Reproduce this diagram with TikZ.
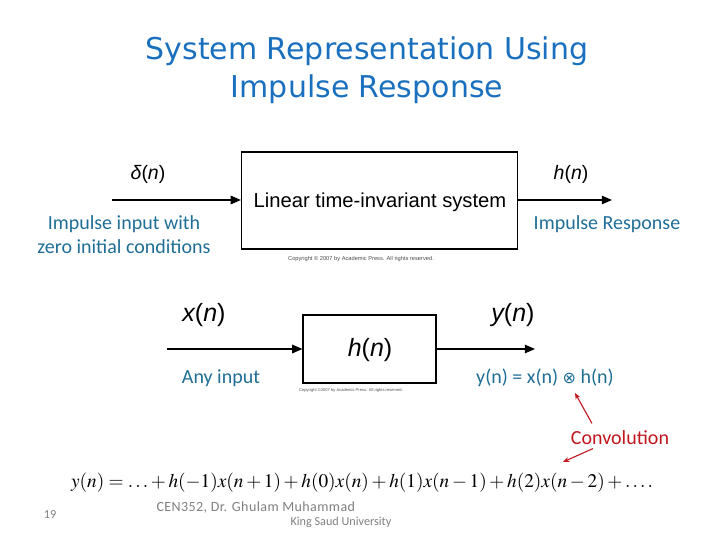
\documentclass[tikz,border=0pt]{standalone}
\usepackage{mathptmx}
\usepackage[no-math]{fontspec}
\setmainfont{Liberation Serif}
\newfontfamily\hvfont{Liberation Sans}
\newfontfamily\clfont{Carlito}
\newfontfamily\ftfont[LetterSpace=3]{Carlito}
\newfontfamily\ttlfont{DejaVu Sans}
\newfontfamily\symfont{DejaVu Sans}
\usetikzlibrary{arrows.meta,positioning}
\definecolor{srtitle}{HTML}{1A70BE}
\definecolor{srlabel}{HTML}{1F6E96}
\definecolor{srred}{HTML}{C0161E}
\definecolor{srgray}{HTML}{7F7F7F}
\tikzset{
  sr box/.style={draw=black, line width=1.1pt, inner sep=0pt},
  sr arrow/.style={-{Triangle[length=3.6mm,width=3mm]}, line width=1.2pt, draw=black},
  sr red arrow/.style={-{Stealth[length=2.2mm,width=1.8mm]}, line width=1.1pt, draw=srred},
  sr sig/.style={font=\hvfont\fontsize{19.5}{22}\selectfont, text=black},
  sr big sig/.style={font=\hvfont\fontsize{25}{28}\selectfont, text=black},
  sr label/.style={font=\clfont\fontsize{20}{24}\selectfont, text=srlabel, align=center},
  sr copy/.style={font=\hvfont\fontsize{5.7}{7}\selectfont, text=black!70},
  sr foot/.style={font=\clfont\fontsize{12.2}{15}\selectfont, text=srgray}
}
\begin{document}
\begin{tikzpicture}[x=1pt, y=-1pt]
  \useasboundingbox (0,0) rectangle (720,540);
  % title
  \node[font=\ttlfont\fontsize{30}{38}\selectfont, text=srtitle, align=center] (title) at (367,70)
    {System Representation Using\\Impulse Response};
  % upper block: LTI system
  \node[sr box, minimum width=276pt, minimum height=97pt] (lti) at (379.5,200.5) {};
  \node[font=\hvfont\fontsize{20.2}{24}\selectfont] (ltitext) at (380,202) {Linear time-invariant system};
  \coordinate (dstart) at (112,200);
  \coordinate (hend) at (612,200);
  \draw[sr arrow] (dstart) -- (dstart -| lti.west);
  \draw[sr arrow] (hend -| lti.east) -- (hend);
  \node[sr sig] (delta) at (148,174) {\itshape δ\upshape(\itshape n\upshape)};
  \node[sr sig] (hn) at (571,174) {\itshape h\upshape(\itshape n\upshape)};
  \node[sr label] (imp in) at (124,235) {Impulse input with\\zero initial conditions};
  \node[sr label] (imp resp) at (607,224) {Impulse Response};
  \node[sr copy] (copy1) at (361,259) {Copyright © 2007 by Academic Press. All rights reserved.};
  % lower block: h(n)
  \node[sr box, minimum width=133pt, minimum height=68pt] (hbox) at (369.5,349) {};
  \node[sr big sig] (htext) at (370,350) {\itshape h\upshape(\itshape n\upshape)};
  \coordinate (xstart) at (167,349);
  \coordinate (yend) at (535,349);
  \draw[sr arrow] (xstart) -- (xstart -| hbox.west);
  \draw[sr arrow] (yend -| hbox.east) -- (yend);
  \node[sr big sig] (xn) at (204,315) {\itshape x\upshape(\itshape n\upshape)};
  \node[sr big sig] (yn) at (513,315) {\itshape y\upshape(\itshape n\upshape)};
  \node[sr label] (anyin) at (221,378) {Any input};
  \node[sr label] (convol) at (545,378) {y(n) = x(n) {\symfont\fontsize{16}{20}\selectfont ⊗} h(n)};
  \node[sr copy, font=\hvfont\fontsize{4.1}{5}\selectfont] (copy2) at (351,390) {Copyright ©2007 by Academic Press. All rights reserved.};
  % convolution note
  \node[sr label, text=srred] (convname) at (620,438) {Convolution};
  \coordinate (tipa) at (575,393);
  \coordinate (tipb) at (563,462);
  \draw[sr red arrow] ([xshift=-28pt,yshift=4pt]convname.north) -- (tipa);
  \draw[sr red arrow] ([xshift=-27pt]convname.south) -- (tipb);
  % convolution sum
  \node[font=\fontsize{19.3}{23}\selectfont] (sum) at (362,483)
    {$y(n) = \ldots + h(-1)x(n+1) + h(0)x(n) + h(1)x(n-1) + h(2)x(n-2) + \ldots.$};
  % footer
  \node[sr foot] (page) at (50,515) {19};
  \node[sr foot, font=\ftfont\fontsize{14}{16}\selectfont, anchor=west] (foot1) at (153,508) {CEN352, Dr. Ghulam Muhammad};
  \node[sr foot, anchor=west] (foot2) at (287,522) {King Saud University};
\end{tikzpicture}
\end{document}
